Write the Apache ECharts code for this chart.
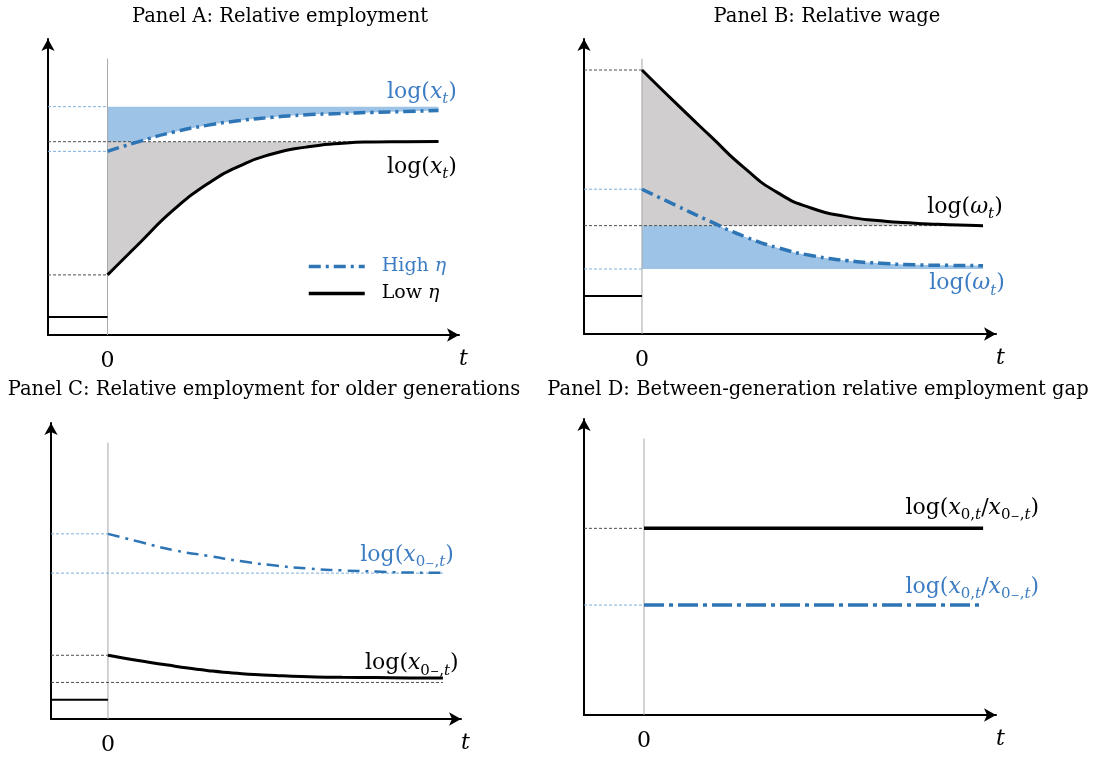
<!DOCTYPE html>
<html>
<head>
<meta charset="utf-8">
<script src="https://cdn.jsdelivr.net/npm/echarts@6/dist/echarts.min.js"></script>
<style>
html, body { margin: 0; padding: 0; background: #fff; }
#chart { width: 1096px; height: 759px; }
</style>
</head>
<body>
<div id="chart"></div>
<script>
// periods after the shock, t = 0 is the thin vertical line
var tSteps = [0, 1, 2, 3, 4, 5, 6, 7, 8, 9, 10];
var tEnds = [0, 10];

// Panel A: relative employment (low eta = black, high eta = blue)
var aLow = [1.99, 3.08, 4.15, 4.99, 5.6, 6.0, 6.22, 6.34, 6.39, 6.4, 6.41];
var aHigh = [6.08, 6.42, 6.72, 6.94, 7.1, 7.21, 7.29, 7.33, 7.37, 7.4, 7.43];
var aPre = 0.6;
var aLowLevels = [1.99, 6.4];     // start, steady state
var aHighLevels = [6.08, 7.56];

// Panel B: relative wage
var bLow = [8.77, 7.66, 6.58, 5.52, 4.68, 4.17, 3.9, 3.76, 3.68, 3.63, 3.6];
var bHigh = [4.81, 4.27, 3.74, 3.24, 2.86, 2.6, 2.44, 2.35, 2.3, 2.28, 2.27];
var bPre = 1.26;
var bLowLevels = [8.77, 3.6];
var bHighLevels = [4.81, 2.16];

// Panel C: relative employment for older generations
var cLow = [2.11, 1.92, 1.75, 1.6, 1.5, 1.44, 1.4, 1.38, 1.37, 1.36, 1.36];
var cHigh = [6.13, 5.85, 5.58, 5.4, 5.22, 5.08, 4.98, 4.92, 4.88, 4.85, 4.84];
var cPre = 0.64;
var cLowLevels = [2.11, 1.21];
var cHighLevels = [6.13, 4.83];

// Panel D: between-generation gap
var dLow = [6.18, 6.18];
var dHigh = [3.64, 3.64];

var titles = [
  'Panel A: Relative employment',
  'Panel B: Relative wage',
  'Panel C: Relative employment for older generations',
  'Panel D: Between-generation relative employment gap'
];

var SERIF = 'DejaVu Serif';
var BLUE = '#2e75b6';
var BLUE_TXT = '#3c7cc2';
var BLUE_FILL = '#9dc3e6';
var GRAY_FILL = '#d0cece';
var REF_BLACK = '#4d4d4d';
var REF_BLUE = '#7fb0dd';
var ZERO_LINE = '#a6a6a6';
var SMOOTH = 0.6;

var grids = [
  { left: 48, top: 39, width: 411, height: 296 },
  { left: 584, top: 39, width: 412, height: 295 },
  { left: 51, top: 423, width: 410, height: 296 },
  { left: 584, top: 419, width: 412, height: 296 }
];
var xRange = [[-1.8, 10.62], [-1.7, 10.38], [-1.7, 10.54], [-1.77, 10.38]];
var yTop = 9.8;
var titlePos = [[275, 2], [822, 2], [259, 375], [813, 375]];

function pairs(xs, ys) {
  return xs.map(function (x, i) { return [x, ys[i]]; });
}

function xAx(g) {
  return {
    type: 'value', gridIndex: g, min: xRange[g][0], max: xRange[g][1],
    axisLine: { show: true, onZero: false, symbol: ['none', 'arrow'], symbolSize: [10, 12],
      lineStyle: { color: '#000', width: 2 } },
    axisTick: { show: false },
    splitLine: { show: false },
    axisLabel: { show: true, customValues: [0], margin: 15,
      fontFamily: SERIF, fontSize: 22, color: '#000' },
    name: 't', nameLocation: 'end', nameGap: 0,
    nameTextStyle: { fontFamily: SERIF, fontStyle: 'italic', fontSize: 22, color: '#000',
      verticalAlign: 'top', padding: [13, 0, 0, 0] }
  };
}

function yAx(g) {
  return {
    type: 'value', gridIndex: g, min: 0, max: yTop,
    axisLine: { show: true, onZero: false, symbol: ['none', 'arrow'], symbolSize: [10, 12],
      lineStyle: { color: '#000', width: 2 } },
    axisTick: { show: false },
    axisLabel: { show: false },
    splitLine: { show: false }
  };
}

function seg(g, data, color, width, type, z) {
  return {
    type: 'line', xAxisIndex: g, yAxisIndex: g, data: data, symbol: 'none',
    itemStyle: { color: color },
    lineStyle: { color: color, width: width, type: type || 'solid', cap: 'butt' },
    silent: true, z: z || 3
  };
}

function curve(g, name, ys, color, width, type) {
  var s = seg(g, pairs(tSteps, ys), color, width, type, 4);
  s.name = name;
  s.smooth = SMOOTH;
  return s;
}

function fill(g, ys, origin, color, z) {
  return {
    type: 'line', xAxisIndex: g, yAxisIndex: g, data: pairs(tSteps, ys), smooth: SMOOTH,
    symbol: 'none', lineStyle: { width: 0 }, silent: true, z: z,
    areaStyle: { color: color, opacity: 1, origin: origin }
  };
}

function mathRich(color) {
  return {
    n: { fontFamily: SERIF, fontSize: 22, lineHeight: 30, color: color },
    i: { fontFamily: SERIF, fontSize: 22, lineHeight: 30, fontStyle: 'italic', color: color },
    si: { fontFamily: SERIF, fontSize: 15, lineHeight: 14, verticalAlign: 'bottom', fontStyle: 'italic', color: color },
    su: { fontFamily: SERIF, fontSize: 15, lineHeight: 14, verticalAlign: 'bottom', color: color },
    sp: { fontFamily: SERIF, fontSize: 11, lineHeight: 29, verticalAlign: 'bottom', color: color }
  };
}

var TXT_X = '{n|log(}{i|x}{si|t}{n|)}';
var TXT_W = '{n|log(}{i|ω}{si|t}{n|)}';
var TXT_X0 = '{n|log(}{i|x}{su|0}{sp|−}{su|,}{si|t}{n|)}';
var TXT_R = '{n|log(}{i|x}{su|0,}{si|t}{n|/}{i|x}{su|0}{sp|−}{su|,}{si|t}{n|)}';

function note(g, items) {
  return {
    type: 'scatter', xAxisIndex: g, yAxisIndex: g, symbolSize: 1, silent: true, z: 6,
    itemStyle: { color: 'rgba(0,0,0,0)' },
    data: items.map(function (it) {
      return {
        value: it[0],
        label: {
          show: true, position: 'inside', formatter: it[1], rich: mathRich(it[2]),
          color: it[2], textBorderWidth: 0, opacity: 1
        }
      };
    })
  };
}

var dash = [3, 2];
var dashDot = [12, 5, 3, 5];
var series = [];

// vertical line at t = 0 in every panel
[0, 1, 2, 3].forEach(function (g) {
  series.push(seg(g, [[0, 0], [0, 9.15]], ZERO_LINE, 1, 'solid', 2));
});

// ---- Panel A
series.push(fill(0, aHigh, aHighLevels[1], BLUE_FILL, 1));
series.push(fill(0, aLow, aLowLevels[1], GRAY_FILL, 2));
series.push(seg(0, [[xRange[0][0], aPre], [0, aPre]], '#000', 2));
series.push(seg(0, [[xRange[0][0], aLowLevels[0]], [0, aLowLevels[0]]], REF_BLACK, 1, dash));
series.push(seg(0, [[xRange[0][0], aLowLevels[1]], [10, aLowLevels[1]]], REF_BLACK, 1, dash));
series.push(seg(0, [[xRange[0][0], aHighLevels[0]], [0, aHighLevels[0]]], REF_BLUE, 1, dash));
series.push(seg(0, [[xRange[0][0], aHighLevels[1]], [0, aHighLevels[1]]], REF_BLUE, 1, dash));
series.push(curve(0, 'Low η', aLow, '#000', 3));
series.push(curve(0, 'High η', aHigh, BLUE, 3.5, dashDot));
series.push(note(0, [[[9.5, 8.05], TXT_X, BLUE_TXT], [[9.5, 5.56], TXT_X, '#000']]));

// ---- Panel B
series.push(fill(1, bHigh, bHighLevels[1], BLUE_FILL, 1));
series.push(fill(1, bLow, bLowLevels[1], GRAY_FILL, 2));
series.push(seg(1, [[xRange[1][0], bPre], [0, bPre]], '#000', 2));
series.push(seg(1, [[xRange[1][0], bLowLevels[0]], [0, bLowLevels[0]]], REF_BLACK, 1, dash));
series.push(seg(1, [[xRange[1][0], bLowLevels[1]], [10, bLowLevels[1]]], REF_BLACK, 1, dash));
series.push(seg(1, [[xRange[1][0], bHighLevels[0]], [0, bHighLevels[0]]], REF_BLUE, 1, dash));
series.push(seg(1, [[xRange[1][0], bHighLevels[1]], [0, bHighLevels[1]]], REF_BLUE, 1, dash));
series.push(curve(1, 'wage low', bLow, '#000', 3));
series.push(curve(1, 'wage high', bHigh, BLUE, 3.5, dashDot));
series.push(note(1, [[[9.47, 4.22], TXT_W, '#000'], [[9.53, 1.69], TXT_W, BLUE_TXT]]));

// ---- Panel C
series.push(seg(2, [[xRange[2][0], cPre], [0, cPre]], '#000', 2));
series.push(seg(2, [[xRange[2][0], cLowLevels[0]], [0, cLowLevels[0]]], REF_BLACK, 1, dash));
series.push(seg(2, [[xRange[2][0], cLowLevels[1]], [10, cLowLevels[1]]], REF_BLACK, 1, dash));
series.push(seg(2, [[xRange[2][0], cHighLevels[0]], [0, cHighLevels[0]]], REF_BLUE, 1, dash));
series.push(seg(2, [[xRange[2][0], cHighLevels[1]], [10, cHighLevels[1]]], REF_BLUE, 1, dash));
series.push(curve(2, 'older low', cLow, '#000', 3));
series.push(curve(2, 'older high', cHigh, BLUE, 2.5, [12, 6, 3, 6]));
series.push(note(2, [[[8.93, 5.43], TXT_X0, BLUE_TXT], [[9.07, 1.85], TXT_X0, '#000']]));

// ---- Panel D
series.push(seg(3, [[xRange[3][0], dLow[0]], [0, dLow[0]]], REF_BLACK, 1, dash));
series.push(seg(3, [[xRange[3][0], dHigh[0]], [0, dHigh[0]]], REF_BLUE, 1, dash));
series.push(seg(3, pairs(tEnds, dLow), '#000', 3.5, 'solid', 4));
series.push(seg(3, pairs(tEnds, dHigh), BLUE, 3.5, [20, 5, 4, 5], 4));
series.push(note(3, [[[9.68, 6.85], TXT_R, '#000'], [[9.68, 4.24], TXT_R, BLUE_TXT]]));

var chart = echarts.init(document.getElementById('chart'));
chart.setOption({
  animation: false,
  backgroundColor: '#fff',
  title: titles.map(function (t, i) {
    return {
      text: t, left: titlePos[i][0], top: titlePos[i][1], textAlign: 'center',
      textStyle: { fontFamily: SERIF, fontSize: 19.5, fontWeight: 'normal', color: '#000' }
    };
  }),
  legend: {
    data: ['High η', 'Low η'],
    orient: 'vertical', left: 302, top: 252,
    itemWidth: 56, itemHeight: 14, itemGap: 8,
    selectedMode: false,
    itemStyle: { opacity: 0 },
    lineStyle: { width: 3.5 },
    formatter: function (name) {
      return name === 'High η' ? '{hb|High }{hi|η}' : '{lb|Low }{li|η}';
    },
    textStyle: {
      fontFamily: SERIF, fontSize: 19, color: '#000',
      rich: {
        hb: { fontFamily: SERIF, fontSize: 19, color: BLUE_TXT, padding: [0, 0, 0, 12] },
        hi: { fontFamily: SERIF, fontSize: 19, fontStyle: 'italic', color: BLUE_TXT },
        lb: { fontFamily: SERIF, fontSize: 19, color: '#000', padding: [0, 0, 0, 12] },
        li: { fontFamily: SERIF, fontSize: 19, fontStyle: 'italic', color: '#000' }
      }
    }
  },
  grid: grids,
  xAxis: [xAx(0), xAx(1), xAx(2), xAx(3)],
  yAxis: [yAx(0), yAx(1), yAx(2), yAx(3)],
  series: series
});
</script>
</body>
</html>
